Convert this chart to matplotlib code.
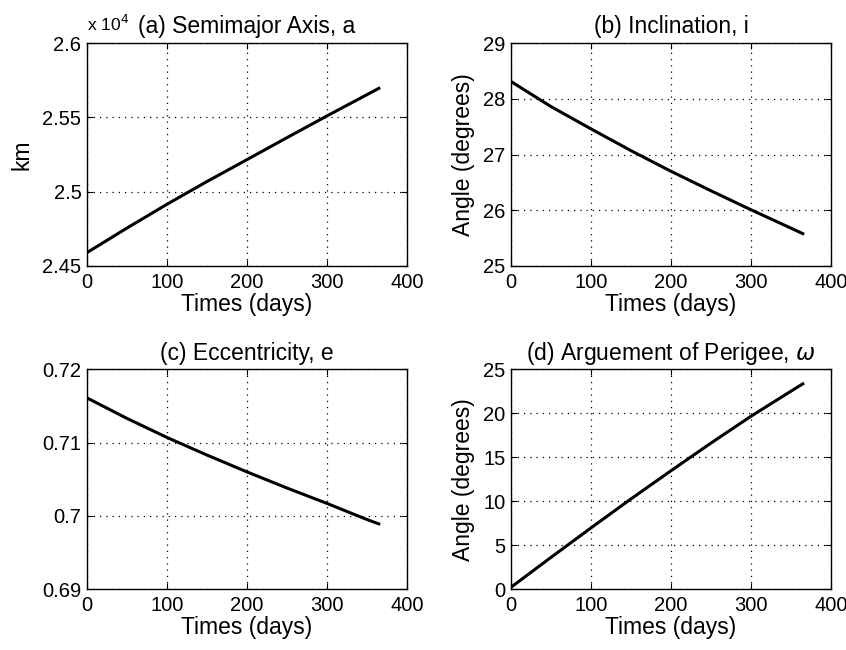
import matplotlib
matplotlib.use("Agg")
import matplotlib.pyplot as plt
import numpy as np

# ======================================
# DATA
# ======================================

days = [0, 50, 100, 150, 200, 250, 300, 350, 365]

semimajor_km = [24590, 24755, 24915, 25068, 25215, 25363, 25509, 25652, 25695]
inclination_deg = [28.31, 27.86, 27.46, 27.07, 26.70, 26.35, 26.01, 25.68, 25.58]
eccentricity = [0.7161, 0.7133, 0.7107, 0.7083, 0.7060, 0.7038, 0.7017, 0.6995, 0.6989]
perigee_deg = [0.2, 3.6, 6.95, 10.25, 13.45, 16.6, 19.65, 22.5, 23.35]

x_ticks = [0, 100, 200, 300, 400]


# ======================================
# FIGURE
# ======================================

plt.rcParams["font.family"] = ["Liberation Sans", "DejaVu Sans"]
plt.rcParams["font.size"] = 14

fig = plt.figure(figsize=(8.46, 6.5), dpi=100)

ax_a = fig.add_axes([0.1028, 0.5908, 0.378, 0.343])
ax_b = fig.add_axes([0.6040, 0.5908, 0.378, 0.343])
ax_c = fig.add_axes([0.1028, 0.0938, 0.378, 0.338])
ax_d = fig.add_axes([0.6040, 0.0938, 0.378, 0.338])


def style(ax, title, ylabel):
    ax.set_xlim(0, 400)
    ax.set_xticks(x_ticks)
    ax.set_title(title, fontsize=16.5, pad=7)
    ax.set_xlabel("Times (days)", fontsize=16.5, labelpad=1)
    if ylabel:
        ax.set_ylabel(ylabel, fontsize=16.5, labelpad=6)
    ax.grid(True, color="black", linestyle=(0, (1, 4)), linewidth=0.9)
    ax.tick_params(direction="in", top=True, right=True, length=4,
                   labelsize=14.5)
    ax.tick_params(axis="x", pad=5)
    ax.tick_params(axis="y", pad=4)
    for s in ax.spines.values():
        s.set_linewidth(1.0)


# (a) semimajor axis
ax_a.plot(days, np.array(semimajor_km) / 1e4, color="black", linewidth=2.2)
ax_a.set_ylim(2.45, 2.6)
ax_a.set_yticks([2.45, 2.5, 2.55, 2.6])
ax_a.set_yticklabels(["2.45", "2.5", "2.55", "2.6"])
style(ax_a, "(a) Semimajor Axis, a", "km")
ax_a.text(0.0, 1.04, "x 10$^4$", transform=ax_a.transAxes,
          fontsize=12.5, ha="left", va="bottom")

# (b) inclination
ax_b.plot(days, inclination_deg, color="black", linewidth=2.2)
ax_b.set_ylim(25, 29)
ax_b.set_yticks([25, 26, 27, 28, 29])
style(ax_b, "(b) Inclination, i", "Angle (degrees)")

# (c) eccentricity
ax_c.plot(days, eccentricity, color="black", linewidth=2.2)
ax_c.set_ylim(0.69, 0.72)
ax_c.set_yticks([0.69, 0.70, 0.71, 0.72])
ax_c.set_yticklabels(["0.69", "0.7", "0.71", "0.72"])
style(ax_c, "(c) Eccentricity, e", None)

# (d) argument of perigee
ax_d.plot(days, perigee_deg, color="black", linewidth=2.2)
ax_d.set_ylim(0, 25)
ax_d.set_yticks([0, 5, 10, 15, 20, 25])
style(ax_d, "(d) Arguement of Perigee, $\\omega$", "Angle (degrees)")

fig.savefig("out.png", dpi=100)
